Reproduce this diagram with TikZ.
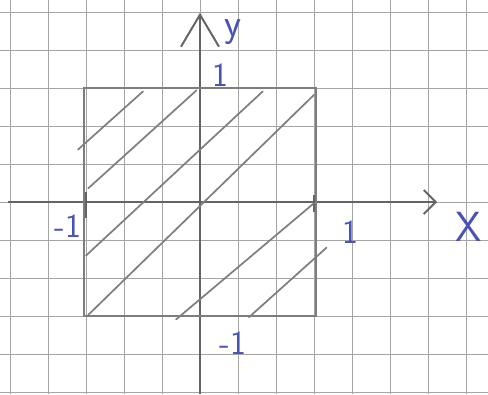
\documentclass[tikz,border=0pt]{standalone}
\usepackage{tikz}
\usetikzlibrary{arrows.meta}
\definecolor{pencil}{RGB}{125,125,125}
\definecolor{ink}{RGB}{72,82,182}
\definecolor{sheet}{RGB}{165,165,165}

\begin{document}
\begin{tikzpicture}[x=2.85cm,y=2.85cm,
   sq/.style={sheet,line width=0.5pt},
   ax/.style={pencil!80!black,line width=1.4pt},
   hatch/.style={pencil,line width=1.2pt,line cap=round},
   lab/.style={ink,font=\fontsize{24}{28}\selectfont\sffamily,inner sep=0pt}]
\useasboundingbox[fill=white] (-1.754,-1.684) rectangle (2.526,1.772);
%% ---- squared paper ----
\foreach \k in {-5,...,7} \draw[sq] (\k/3,-1.684) -- (\k/3,1.772);
\foreach \k in {-5,...,5} \draw[sq] (-1.754,\k/3) -- (2.526,\k/3);

%% ---- axes ----
\coordinate (xs) at (-1.68,0);
\coordinate (xe) at (2.08,0);
\coordinate (ys) at (0,-1.684);
\coordinate (ye) at (0,1.66);
\draw[ax,-{Straight Barb[length=3mm,width=6mm]}] (xs) -- (xe);
\draw[ax,-{Straight Barb[length=8mm,width=9.5mm]}] (ys) -- (ye);
% ticks
\draw[ax] (-1,0.09) -- (-1,-0.14);
\draw[ax] (1,0.06) -- (1,-0.09);
\draw[ax] (-0.07,1) -- (0.07,1);

%% ---- square |x|<=1, |y|<=1 ----
\coordinate (bl) at (-1.02,-1);
\coordinate (tr) at (1.02,1);
\draw[hatch] (bl) rectangle (tr);
% hatching
\draw[hatch] (-1.07,0.46) -- (-0.5,0.97);
\draw[hatch] (-0.98,0.12) -- (-0.03,0.98);
\draw[hatch] (-1.0,-0.47) -- (0.55,0.97);
\draw[hatch] (-0.98,-0.99) -- (1.0,0.94);
\draw[hatch] (-0.21,-1.03) -- (1.0,-0.01);
\draw[hatch] (0.43,-1.01) -- (1.11,-0.4);

%% ---- labels ----
\node[lab,font=\fontsize{28}{32}\selectfont\sffamily] (ylab) at (0.29,1.49) {y};
\node[lab,font=\fontsize{30}{34}\selectfont\sffamily] (xlab) at (2.36,-0.22) {X};
\node[lab] (yone) at (0.175,1.11) {1};
\node[lab] (ymone) at (0.29,-1.24) {-1};
\node[lab] (xone) at (1.32,-0.26) {1};
\node[lab] (xmone) at (-1.16,-0.21) {-1};
\end{tikzpicture}
\end{document}
